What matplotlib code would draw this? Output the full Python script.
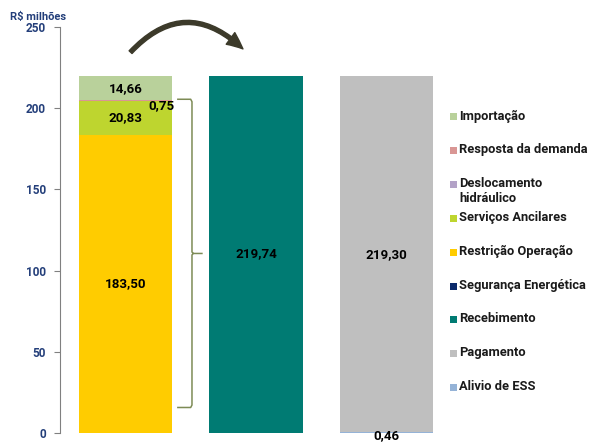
import matplotlib
matplotlib.use("Agg")
import matplotlib.pyplot as plt
from matplotlib.patches import Rectangle

plt.rcParams["font.family"] = ["Roboto", "DejaVu Sans"]

# ---- data ----
bar_positions = [0, 1, 2]
importacao = [14.66, 0, 0]
resposta_demanda = [0.75, 0, 0]
deslocamento = [0, 0, 0]
servicos_ancilares = [20.83, 0, 0]
restricao_operacao = [183.50, 0, 0]
seguranca_energetica = [0, 0, 0]
recebimento = [0, 219.74, 0]
pagamento = [0, 0, 219.30]
alivio_ess = [0, 0, 0.46]

legend_labels = ["Importação", "Resposta da demanda", "Deslocamento\nhidráulico",
                 "Serviços Ancilares", "Restrição Operação", "Segurança Energética",
                 "Recebimento", "Pagamento", "Alivio de ESS"]
colors = {
    "imp": "#B9D19B", "resp": "#D99694", "desl": "#B3A2C7", "serv": "#BED52F",
    "rest": "#FFCC00", "seg": "#0B2A6B", "rec": "#007B73", "pag": "#BFBFBF",
    "ali": "#95B3D7",
}
yticks = [0, 50, 100, 150, 200, 250]

fig = plt.figure(figsize=(5.94, 4.42), dpi=100)
ax = fig.add_axes([0.101, 0.02, 0.66, 0.919])

# stack order bottom -> top
stack = [
    (alivio_ess, colors["ali"]),
    (restricao_operacao, colors["rest"]),
    (seguranca_energetica, colors["seg"]),
    (recebimento, colors["rec"]),
    (pagamento, colors["pag"]),
    (servicos_ancilares, colors["serv"]),
    (deslocamento, colors["desl"]),
    (resposta_demanda, colors["resp"]),
    (importacao, colors["imp"]),
]
bottoms = [0.0, 0.0, 0.0]
w = 0.713
for vals, c in stack:
    ax.bar(bar_positions, vals, width=w, bottom=bottoms, color=c,
           edgecolor="none", zorder=2)
    bottoms = [b + v for b, v in zip(bottoms, vals)]

lab_kw = dict(fontsize=9.6, fontweight="bold", color="black", ha="center", va="center")
def fmt(v):
    return f"{v:.2f}".replace(".", ",")

# bar 1 labels
b0 = restricao_operacao[0]
ax.text(0, b0 / 2, fmt(restricao_operacao[0]), **lab_kw)
ax.text(0, b0 + servicos_ancilares[0] / 2, fmt(servicos_ancilares[0]), **lab_kw)
b1 = b0 + servicos_ancilares[0]
ax.text(0.38, b1 + 0.75 - 3.5, fmt(resposta_demanda[0]), fontsize=9.6, fontweight="bold",
        ha="right", va="center")
b2 = b1 + resposta_demanda[0]
ax.text(0, b2 + importacao[0] / 2 - 0.5, fmt(importacao[0]), **lab_kw)
ax.text(1, recebimento[1] / 2 + 0.5, fmt(recebimento[1]), **lab_kw)
ax.text(2, pagamento[2] / 2 + 0.5, fmt(pagamento[2]), **lab_kw)
ax.text(2, -1.5, fmt(alivio_ess[2]), fontsize=9.6, fontweight="bold", ha="center",
        va="center", clip_on=False)

# brace
bc = "#7D8B55"
ax.plot([0.402, 0.5, 0.51, 0.51, 0.52, 0.586], [205.5, 205.5, 204, 111.5, 110.6, 110.6],
        color=bc, lw=1.1, zorder=3, solid_joinstyle="round")
ax.plot([0.402, 0.5, 0.51, 0.51, 0.52], [15.8, 15.8, 17.3, 109.7, 110.6],
        color=bc, lw=1.1, zorder=3)

# curved arrow
ax.annotate("", xy=(0.9, 236.5), xytext=(0.04, 234.5),
            arrowprops=dict(arrowstyle="simple,head_length=0.9,head_width=0.8,tail_width=0.22",
                            connectionstyle="arc3,rad=-0.5", color="#3C3A2A",
                            mutation_scale=13, shrinkA=0, shrinkB=0),
            annotation_clip=False)

ax.set_xlim(-0.5, 2.5)
ax.set_ylim(0, 250)
ax.set_yticks(yticks)
ax.set_yticklabels([str(t) for t in yticks], fontsize=8.5, fontweight="bold", color="#243F7A")
ax.tick_params(axis="y", direction="out", length=4, color="#808080", pad=6)
ax.set_xticks([])
for s in ["top", "right", "bottom"]:
    ax.spines[s].set_visible(False)
ax.spines["left"].set_color("#808080")
ax.spines["left"].set_linewidth(0.8)

fig.text(0.017, 0.962, "R$ milhões", fontsize=8, fontweight="bold", color="#243F7A",
         ha="left", va="center")

# legend (manual, first-line aligned)
leg_colors = [colors["imp"], colors["resp"], colors["desl"], colors["serv"], colors["rest"],
              colors["seg"], colors["rec"], colors["pag"], colors["ali"]]
y0 = 117
step = 33.8
for i, (lab, c) in enumerate(zip(legend_labels, leg_colors)):
    ypx = y0 + i * step
    yf = 1 - ypx / 442
    fig.patches.append(Rectangle((450 / 594, yf - 3.5 / 442), 7 / 594, 7 / 442,
                                 transform=fig.transFigure, facecolor=c, edgecolor="none"))
    fig.text(459 / 594, yf + 7.5 / 442, lab, fontsize=9.3, fontweight="bold", color="#1a1a1a",
             ha="left", va="top", linespacing=1.15)

fig.savefig("out.png", dpi=100)
